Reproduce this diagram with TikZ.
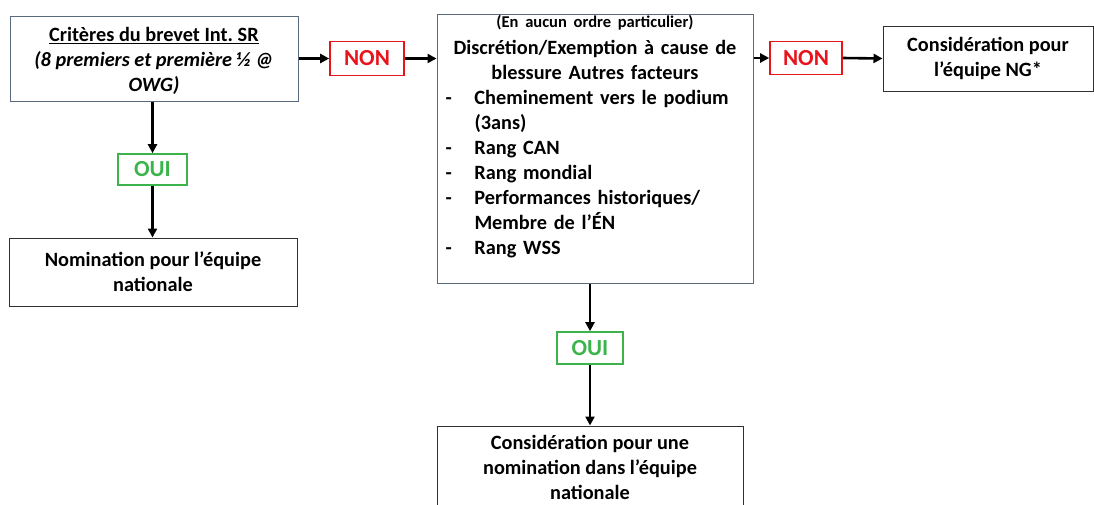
\documentclass[tikz,border=0pt]{standalone}
\usepackage{fontspec}
\setmainfont{Carlito}
\usepackage{array}
\usepackage{tikz}
\usetikzlibrary{arrows.meta,positioning,calc}
\definecolor{slate}{HTML}{5B6B7E}
\definecolor{dark}{HTML}{303030}
\definecolor{nored}{HTML}{E8141C}
\definecolor{ouigreen}{HTML}{3CB44B}
\frenchspacing

\begin{document}
\begin{tikzpicture}[x=1pt,y=-1pt,
  font=\fontsize{20.3}{25}\selectfont\bfseries,
  box/.style={draw=dark,line width=1pt,fill=white,align=center,inner sep=0pt},
  dec/.style={draw,line width=1.6pt,inner sep=0pt,font=\fontsize{23}{25}\selectfont\bfseries},
  non/.style={dec,draw=nored,text=nored},
  oui/.style={dec,draw=ouigreen,text=ouigreen},
  link/.style={-{Triangle[length=9pt,width=9pt]},line width=2.6pt,black}]
\useasboundingbox (0,0) rectangle (1094,504);

% ---- left column
\node[box,draw=slate,minimum width=288,minimum height=85] (crit) at (154,58.5)
  {\rule{0pt}{19pt}\underline{Critères du brevet Int. SR}\\ \itshape(8 premiers et première ½ @\\ \itshape OWG)};
\node[oui,minimum width=69,minimum height=31] (oui1) at (152.5,169.5) {OUI};
\node[box,minimum width=288,minimum height=68] (nom) at (153,272)
  {Nomination pour l’équipe\\ nationale};
\draw[link] (crit.south -| oui1.north) -- (oui1.north);
\draw[link] (oui1.south) -- (nom.north -| oui1.south);

% ---- top row
\node[non,minimum width=74,minimum height=34] (non1) at (367,58.5) {NON};
\node[box,draw=slate,minimum width=316,minimum height=269] (disc) at (595,148.5) {};
\node[anchor=north,inner sep=0pt,text width=304,yshift=-2pt] (crit2) at (disc.north)
  {\centering{\fontsize{16.5}{20}\selectfont(En aucun ordre particulier)}\\[2pt]
   Discrétion/Exemption à cause de\\ blessure Autres facteurs\par
   \begin{tabular}[t]{@{}p{29pt}@{}>{\raggedright\arraybackslash}p{270pt}@{}}
   - & Cheminement vers le podium\newline (3ans)\\
   - & Rang CAN\\
   - & Rang mondial\\
   - & Performances historiques/\newline Membre de l’ÉN\\
   - & Rang WSS
   \end{tabular}\par};
\node[non,minimum width=72,minimum height=33] (non2) at (806,58) {NON};
\node[box,minimum width=210,minimum height=65] (ng) at (988,58.5)
  {Considération pour\\ l’équipe NG*};
\draw[link] (crit.east |- non1.west) -- (non1.west);
\draw[link] (non1.east) -- (non1.east -| disc.west);
\draw[link] (disc.east |- non2.west) -- (non2.west);
\draw[link] (non2.east) -- (ng.west);

% ---- bottom
\node[oui,minimum width=66,minimum height=32] (oui2) at (590,348) {OUI};
\node[box,minimum width=306,minimum height=82] (cons) at (590,467)
  {Considération pour une\\ nomination dans l’équipe\\ nationale};
\draw[link] (disc.south -| oui2.north) -- (oui2.north);
\draw[link] (oui2.south) -- (cons.north);
\end{tikzpicture}
\end{document}
